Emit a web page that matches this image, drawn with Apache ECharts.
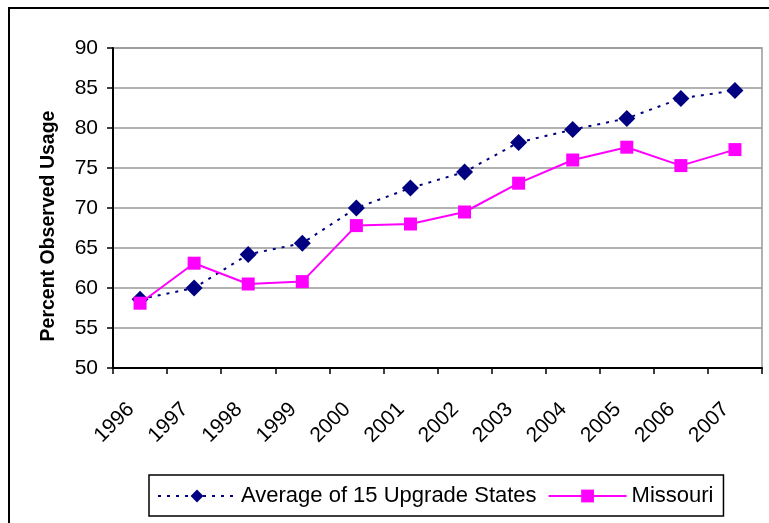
<!DOCTYPE html>
<html>
<head>
<meta charset="utf-8">
<script src="https://cdn.jsdelivr.net/npm/echarts@6/dist/echarts.min.js"></script>
<style>
	html, body { margin: 0; padding: 0; background: #fff; }
	#chart { width: 769px; height: 523px; }
</style>
</head>
<body>
<div id="chart"></div>
<script>
// 年份
const years = ['1996', '1997', '1998', '1999', '2000', '2001', '2002', '2003', '2004', '2005', '2006', '2007']
// 15 州平均
const upgradeAvg = [58.6, 60.0, 64.2, 65.6, 70.0, 72.5, 74.5, 78.2, 79.8, 81.2, 83.7, 84.7]
// 密苏里
const missouri = [58.1, 63.1, 60.5, 60.8, 67.8, 68.0, 69.5, 73.1, 76.0, 77.6, 75.3, 77.3]

const FONT = '"Liberation Sans", Arial, sans-serif'

const chart = echarts.init(document.getElementById('chart'))

chart.setOption({
	animation: false,
	backgroundColor: '#fff',
	textStyle: { fontFamily: FONT },
	grid: {
		left: 113,
		top: 48,
		right: 7,
		bottom: 155,
		show: true,
		borderColor: '#999',
		borderWidth: 1.5,
	},
	legend: {
		left: 149,
		top: 475,
		orient: 'horizontal',
		borderColor: '#000',
		borderWidth: 1.5,
		padding: [10, 10, 9, 8],
		itemGap: 11,
		itemWidth: 78,
		itemHeight: 16,
		textStyle: { fontSize: 22, color: '#000', fontFamily: FONT },
		data: ['Average of 15 Upgrade States', 'Missouri'],
	},
	graphic: [
		// 外框
		{
			type: 'rect',
			shape: { x: 9, y: 8, width: 800, height: 600 },
			style: { fill: null, stroke: '#000', lineWidth: 2 },
			silent: true,
		},
		// y 轴标题
		{
			type: 'text',
			x: 49,
			y: 226,
			rotation: Math.PI / 2,
			style: {
				text: 'Percent Observed Usage',
				font: 'bold 19.5px ' + FONT,
				fill: '#000',
				align: 'center',
				verticalAlign: 'middle',
			},
		},
	],
	xAxis: {
		type: 'category',
		data: years,
		boundaryGap: true,
		axisLine: { lineStyle: { color: '#000', width: 2 } },
		axisTick: { show: true, length: 6, lineStyle: { color: '#000', width: 1.5 } },
		axisLabel: {
			rotate: 45,
			margin: 29,
			fontSize: 21,
			color: '#000',
			fontFamily: FONT,
			interval: 0,
			padding: [0, 13, 0, 0],
		},
		splitLine: { show: false },
	},
	yAxis: {
		type: 'value',
		min: 50,
		max: 90,
		interval: 5,
		axisLine: { show: true, lineStyle: { color: '#000', width: 2 } },
		axisTick: { show: true, length: 6, lineStyle: { color: '#000', width: 1.5 } },
		axisLabel: { margin: 15, fontSize: 21, color: '#000', fontFamily: FONT },
		splitLine: { show: true, lineStyle: { color: '#999', width: 1.5 } },
	},
	series: [
		{
			name: 'Average of 15 Upgrade States',
			type: 'line',
			data: upgradeAvg,
			symbol: 'diamond',
			symbolSize: 17,
			itemStyle: { color: '#000080' },
			lineStyle: { color: '#000080', width: 2, type: [3, 6] },
			z: 3,
		},
		{
			name: 'Missouri',
			type: 'line',
			data: missouri,
			symbol: 'rect',
			symbolSize: 13,
			itemStyle: { color: '#ff00ff' },
			lineStyle: { color: '#ff00ff', width: 2 },
			z: 4,
		},
	],
})
</script>
</body>
</html>
